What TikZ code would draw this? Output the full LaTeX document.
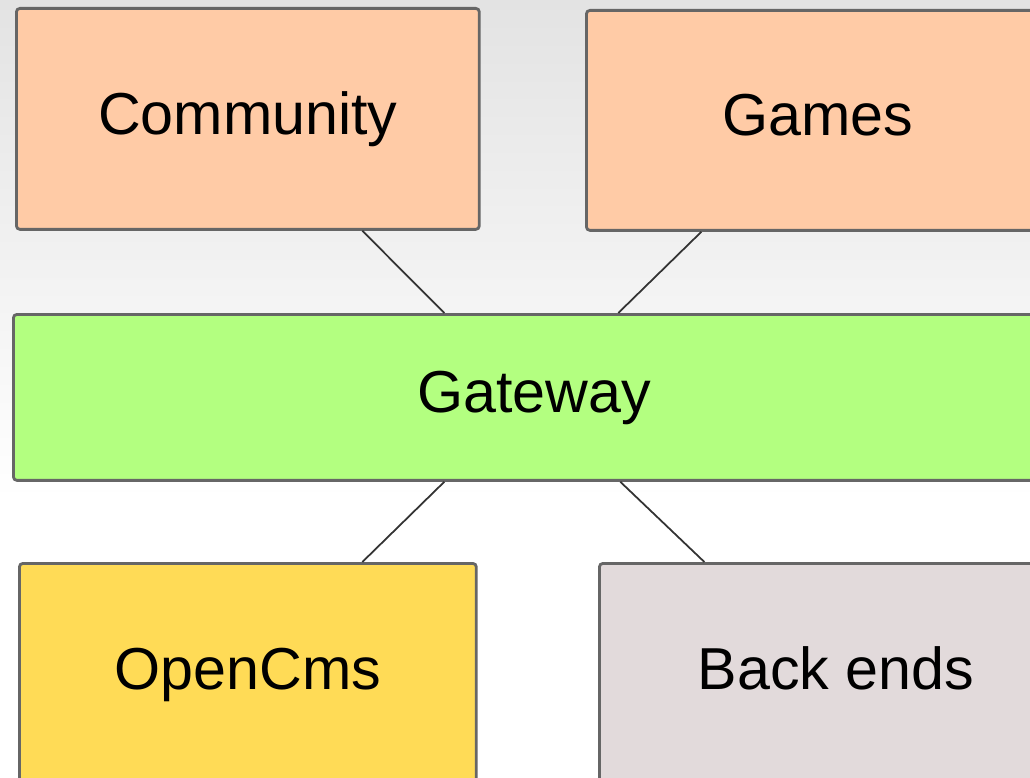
\documentclass[tikz,border=0pt]{standalone}
\usepackage{fontspec}
\setmainfont{Liberation Sans}
\usepackage{tikz}
\usetikzlibrary{calc}
\definecolor{peach}{HTML}{FFCBA6}
\definecolor{lime}{HTML}{B3FF80}
\definecolor{mustard}{HTML}{FFDB56}
\definecolor{stone}{HTML}{E2DADB}
\definecolor{edge}{HTML}{666666}
\tikzset{
	box/.style={draw=edge, line width=1.6pt, rounded corners=2pt, anchor=north west, inner sep=0pt,
		text height=24.6pt, text depth=7.1pt, font=\fontsize{33.7}{40}\selectfont},
	link/.style={draw=black!80, line width=1pt}
}

\begin{document}
\begin{tikzpicture}[x=0.02cm, y=-0.02cm]
		%%%%% START %%%%%
		\useasboundingbox (0, 0) rectangle (1030, 777);
		\clip (0, 0) rectangle (1030, 777);
		\fill[white] (0, 0) rectangle (1030, 777);
		\shade[top color=black!11, bottom color=white] (0, 0) rectangle (1030, 500);
		
		\node[box, fill=peach, minimum width=9.26cm, minimum height=4.42cm] (comm) at (15, 7) {Community};
		\node[box, fill=peach, minimum width=9.26cm, minimum height=4.40cm] (games) at (585, 9) {Games};
		\node[box, fill=lime, minimum width=20.84cm, minimum height=3.32cm] (gate) at (12, 313) {Gateway};
		\node[box, fill=mustard, minimum width=9.14cm, minimum height=4.42cm] (cms) at (18, 562) {OpenCms};
		\node[box, fill=stone, minimum width=9.46cm, minimum height=4.42cm] (back) at (598, 562) {Back ends};
		
		\draw[link] ([xshift=2.29cm]comm.south) -- ([xshift=-1.8cm]gate.north);
		\draw[link] ([xshift=-2.33cm]games.south) -- ([xshift=1.68cm]gate.north);
		\draw[link] ([xshift=-1.8cm]gate.south) -- ([xshift=2.29cm]cms.north);
		\draw[link] ([xshift=1.72cm]gate.south) -- ([xshift=-2.63cm]back.north);
		%%%%% END %%%%%
	\end{tikzpicture}
\end{document}
